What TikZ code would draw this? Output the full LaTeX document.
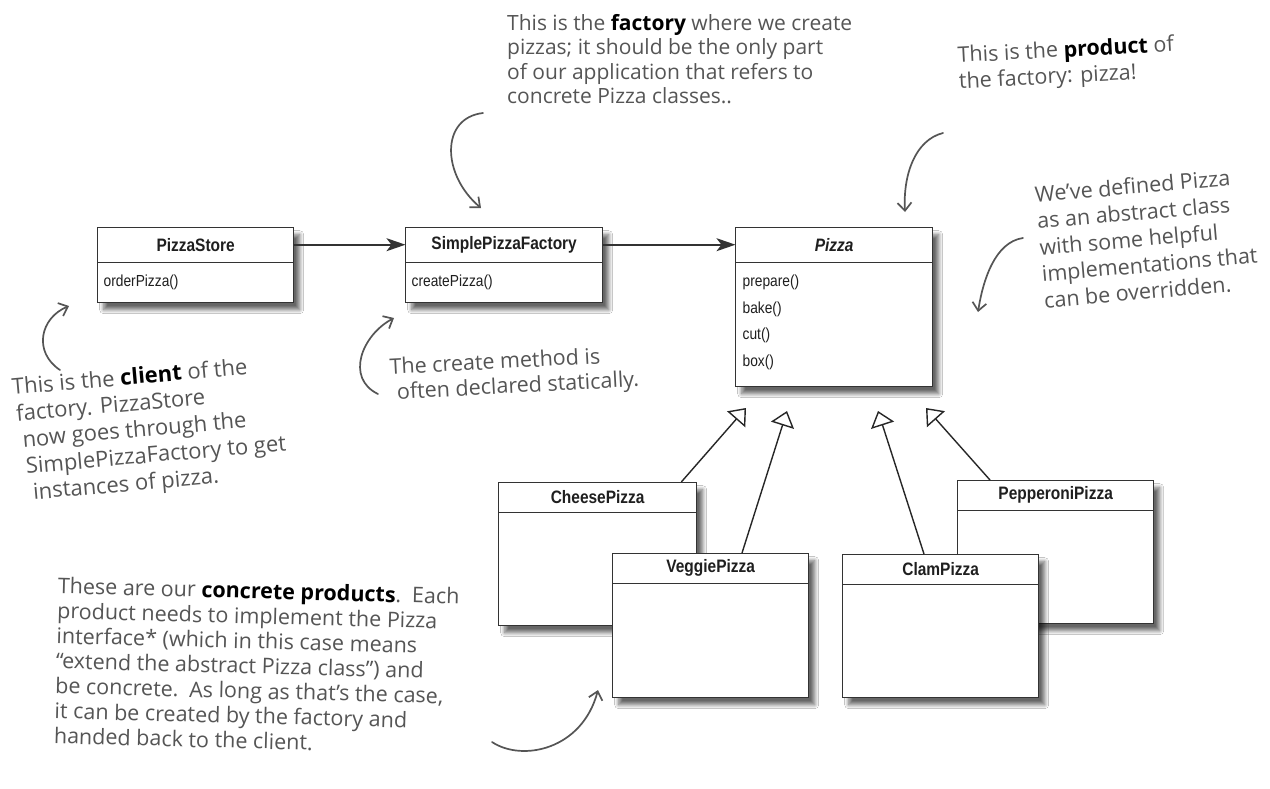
\documentclass[tikz,border=0pt]{standalone}
\usepackage{fontspec}
\setmainfont{Open Sans}
\newfontfamily\umlfont{Liberation Sans}[FakeStretch=0.86]
\usetikzlibrary{arrows.meta,shadows.blur,calc}
\definecolor{ink}{HTML}{555555}
\definecolor{umlline}{HTML}{333333}
\begin{document}
\begin{tikzpicture}[x=1pt,y=-1pt,
 umlbox/.style={draw=umlline, line width=1.3pt, fill=white, anchor=north west, inner sep=0pt,
   blur shadow={shadow xshift=6pt, shadow yshift=-7pt, shadow blur steps=10, shadow blur radius=4pt, shadow opacity=60}},
 umltitle/.style={anchor=north, inner sep=0pt, font=\umlfont\bfseries\fontsize{18}{21}\selectfont, text=black!88},
 umlop/.style={anchor=west, inner sep=0pt, font=\umlfont\fontsize{16}{19}\selectfont, text=black!88},
 umldiv/.style={draw=umlline, line width=1.1pt},
 assoc/.style={draw=umlline, line width=1.6pt, -{Stealth[length=19pt,width=13pt,inset=5pt]}},
 gen/.style={draw=black!85, line width=1.4pt, -{Triangle[open,length=15pt,width=24pt,fill=white]}},
 note/.style={anchor=north west, inner sep=0pt, align=left, text=ink, font=\fontsize{20.5}{24.5}\selectfont},
 hand/.style={draw=ink, line width=1.7pt, line cap=round, -{Straight Barb[length=8pt,width=14pt]}},
]
\path[fill=white] (0,0) rectangle (1270,788);
\useasboundingbox (0,0) rectangle (1270,788);

% ---- PizzaStore
\node[umlbox, minimum width=196pt, minimum height=75pt] (ps) at (97,227) {};
\node[umltitle, minimum width=196pt, minimum height=35pt] (psT) at (ps.north) {PizzaStore};
\draw[umldiv] (psT.south west) -- (psT.south east);
\node[umlop] (psO) at ($(psT.south west)+(6,20)$) {orderPizza()};

% ---- SimplePizzaFactory
\node[umlbox, minimum width=197pt, minimum height=75pt] (sf) at (405,227) {};
\node[umltitle, minimum width=197pt, minimum height=35pt] (sfT) at (sf.north) {SimplePizzaFactory};
\draw[umldiv] (sfT.south west) -- (sfT.south east);
\node[umlop] (sfO) at ($(sfT.south west)+(6,20)$) {createPizza()};

% ---- Pizza
\node[umlbox, minimum width=197pt, minimum height=159pt] (pz) at (735,227) {};
\node[umltitle, minimum width=197pt, minimum height=35pt] (pzT) at (pz.north) {\itshape Pizza};
\draw[umldiv] (pzT.south west) -- (pzT.south east);
\node[umlop] (pzO1) at ($(pzT.south west)+(7,20)$) {prepare()};
\node[umlop] (pzO2) at ($(pzT.south west)+(7,46.5)$) {bake()};
\node[umlop] (pzO3) at ($(pzT.south west)+(7,73)$) {cut()};
\node[umlop] (pzO4) at ($(pzT.south west)+(7,99.5)$) {box()};

% ---- CheesePizza
\node[umlbox, minimum width=198pt, minimum height=143pt] (ch) at (498,482) {};
\node[umltitle, minimum width=198pt, minimum height=30pt] (chT) at (ch.north) {CheesePizza};
\draw[umldiv] (chT.south west) -- (chT.south east);

% ---- VeggiePizza
\node[umlbox, minimum width=196pt, minimum height=144pt] (vg) at (612,553) {};
\node[umltitle, minimum width=196pt, minimum height=30pt] (vgT) at (vg.north) {VeggiePizza};
\draw[umldiv] (vgT.south west) -- (vgT.south east);

% ---- PepperoniPizza
\node[umlbox, minimum width=196pt, minimum height=143pt] (pp) at (957,480) {};
\node[umltitle, minimum width=196pt, minimum height=30pt] (ppT) at (pp.north) {PepperoniPizza};
\draw[umldiv] (ppT.south west) -- (ppT.south east);

% ---- ClamPizza
\node[umlbox, minimum width=196pt, minimum height=143pt] (cl) at (842,554) {};
\node[umltitle, minimum width=196pt, minimum height=30pt] (clT) at (cl.north) {ClamPizza};
\draw[umldiv] (clT.south west) -- (clT.south east);

% ---- associations
\draw[assoc] (psT.east) -- (sfT.west);
\draw[assoc] (sfT.east) -- (pzT.west);

% ---- generalizations
\coordinate (g1) at (746,408);
\coordinate (g2) at (787,411);
\coordinate (g3) at (878,411);
\coordinate (g4) at (926,408);
\draw[gen] ([xshift=-16pt]ch.north east) -- (g1);
\draw[gen] ([xshift=130pt]vg.north west) -- (g2);
\draw[gen] ([xshift=82pt]cl.north west) -- (g3);
\draw[gen] ([xshift=33pt]pp.north west) -- (g4);

% ---- annotations
\node[note, font=\fontsize{21}{24.5}\selectfont] (nFactory) at (507,14) {This is the \textcolor{black}{\textbf{factory}} where we create\\
pizzas; it should be the only part\\
of our application that refers to\\
concrete Pizza classes..};

\node[note, rotate=3, font=\fontsize{21.5}{26}\selectfont] (nProduct) at (957,46) {This is the \textcolor{black}{\textbf{product}} of\\
the factory: pizza!};

\node[note, rotate=5, font=\fontsize{21.5}{26.5}\selectfont] (nAbstract) at (1034,186) {We've defined Pizza\\
as an abstract class\\
with some helpful\\
implementations that\\
can be overridden.};

\node[note, rotate=5, font=\fontsize{22}{26.5}\selectfont] (nClient) at (11,378) {This is the \textcolor{black}{\textbf{client}} of the\\
\hspace*{2pt}factory. PizzaStore\\
\hspace*{6pt}now goes through the\\
\hspace*{7pt}SimplePizzaFactory to get\\
\hspace*{12pt}instances of pizza.};

\node[note, rotate=3, font=\fontsize{21.5}{25}\selectfont] (nCreate) at (389,358) {The create method is\\
\hspace*{6pt}often declared statically.};

\node[note, rotate=-1.5, font=\fontsize{21.5}{25}\selectfont] (nConcrete) at (58,577) {These are our \textcolor{black}{\textbf{concrete products}}.\enspace Each\\
product needs to implement the Pizza\\
interface* (which in this case means\\
``extend the abstract Pizza class'') and\\
be concrete.\enspace As long as that's the case,\\
it can be created by the factory and\\
handed back to the client.};

% ---- hand-drawn arrows
\coordinate (a1s) at (483,113); \coordinate (a1e) at (481,208);
\coordinate (a2s) at (943,133); \coordinate (a2e) at (905,212);
\coordinate (a3s) at (1023,238); \coordinate (a3e) at (978,312);
\coordinate (a4s) at (60,370); \coordinate (a4e) at (69,306);
\coordinate (a5s) at (378,394); \coordinate (a5e) at (394,318);
\coordinate (a6s) at (492,742); \coordinate (a6e) at (598,690);
\draw[hand] (a1s) .. controls (440,118) and (442,175) .. (a1e);
\draw[hand] (a2s) .. controls (915,140) and (903,175) .. (a2e);
\draw[hand] (a3s) .. controls (995,242) and (983,280) .. (a3e);
\draw[hand] (a4s) .. controls (33,352) and (40,318) .. (a4e);
\draw[hand] (a5s) .. controls (345,378) and (362,335) .. (a5e);
\draw[hand] (a6s) .. controls (522,762) and (582,750) .. (a6e);
\end{tikzpicture}
\end{document}
